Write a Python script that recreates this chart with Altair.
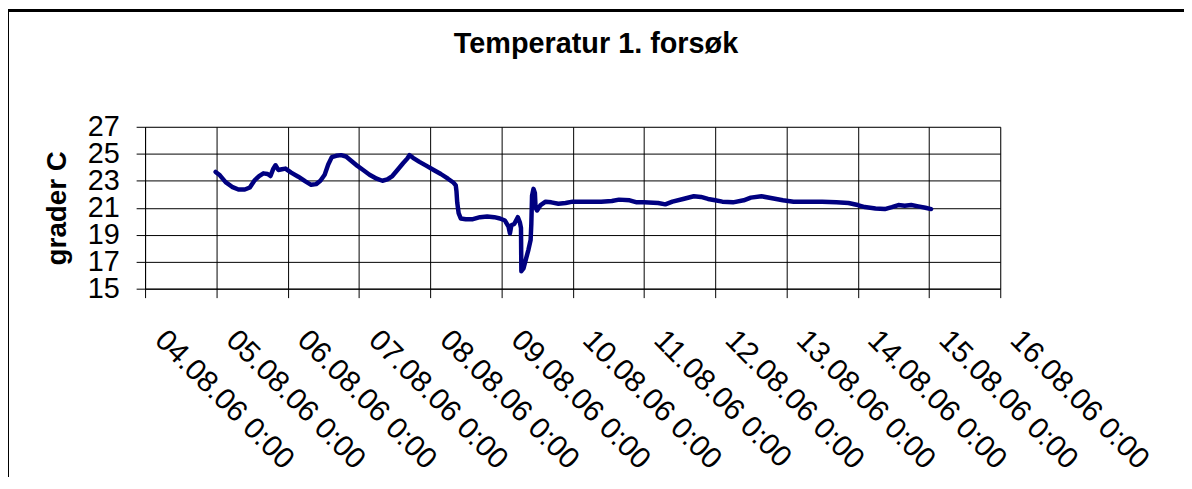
import altair as alt
import pandas as pd

# Day offsets from 04.08.06 0:00 and temperatures
day_offset = [
    0.99, 1.05, 1.13, 1.22, 1.31, 1.40, 1.47, 1.54, 1.60, 1.66, 1.72, 1.76, 1.80, 1.83, 1.87,
    1.92, 1.97, 2.05, 2.15, 2.25, 2.33, 2.40, 2.46, 2.52, 2.57, 2.62, 2.68, 2.75, 2.82, 2.90,
    2.98, 3.06, 3.15, 3.25, 3.33, 3.40, 3.47, 3.55, 3.62, 3.68, 3.71, 3.76, 3.85, 3.95, 4.05,
    4.15, 4.25, 4.33, 4.36, 4.37, 4.38, 4.40, 4.43, 4.50, 4.60, 4.70, 4.80, 4.90, 4.98, 5.05,
    5.10, 5.12, 5.14, 5.18, 5.23, 5.26, 5.275, 5.28, 5.31, 5.35, 5.38, 5.41, 5.42, 5.43, 5.45,
    5.47, 5.48, 5.50, 5.55, 5.62, 5.70, 5.80, 5.90, 6.00, 6.20, 6.40, 6.55, 6.65, 6.80, 6.90,
    7.00, 7.20, 7.30, 7.40, 7.55, 7.70, 7.80, 7.90, 8.00, 8.10, 8.25, 8.40, 8.50, 8.65, 8.80,
    8.95, 9.10, 9.30, 9.50, 9.70, 9.87, 10.00, 10.10, 10.25, 10.38, 10.48, 10.57, 10.66, 10.75,
    10.85, 10.95, 11.03,
]
temperature = [
    23.65, 23.4, 22.9, 22.55, 22.35, 22.35, 22.5, 23.05, 23.35, 23.55, 23.5, 23.35, 23.9, 24.15, 23.8,
    23.85, 23.9, 23.6, 23.3, 22.95, 22.7, 22.75, 23.0, 23.45, 24.2, 24.75, 24.85, 24.9, 24.8, 24.45,
    24.1, 23.8, 23.45, 23.15, 23.0, 23.1, 23.35, 23.85, 24.3, 24.65, 24.9, 24.7, 24.4, 24.1, 23.8,
    23.5, 23.15, 22.85, 22.65, 22.2, 21.4, 20.6, 20.2, 20.15, 20.15, 20.3, 20.35, 20.3, 20.2, 20.05,
    19.6, 19.1, 19.7, 19.8, 20.3, 19.9, 19.5, 16.3, 16.5, 17.3, 17.9, 18.6, 19.8, 21.9, 22.4,
    22.1, 21.0, 20.8, 21.2, 21.45, 21.4, 21.3, 21.35, 21.45, 21.45, 21.45, 21.5, 21.6, 21.55, 21.4,
    21.4, 21.35, 21.25, 21.45, 21.65, 21.85, 21.8, 21.65, 21.55, 21.45, 21.4, 21.55, 21.75, 21.85, 21.7,
    21.55, 21.45, 21.45, 21.45, 21.4, 21.35, 21.2, 21.05, 20.95, 20.9, 21.05, 21.2, 21.15, 21.2,
    21.1, 21.0, 20.9,
]
tick_days = list(range(4, 17))
y_ticks = [15, 17, 19, 21, 23, 25, 27]
chart_title = "Temperatur 1. forsøk"

start = pd.Timestamp("2006-08-04 00:00:00")
times = start + pd.to_timedelta(day_offset, unit="D")
df = pd.DataFrame({
    "time": times.strftime("%Y-%m-%dT%H:%M:%S"),
    "temp": temperature,
})

FONT = "Liberation Sans"
tick_values = [alt.DateTime(year=2006, month=8, date=d, hours=0) for d in tick_days]

x_enc = alt.X(
    "time:T",
    scale=alt.Scale(domain=[tick_values[0], tick_values[-1]], nice=False),
    axis=alt.Axis(
        values=tick_values,
        format="%d.%m.%y %-H:%M",
        labelAngle=45,
        labelAlign="left",
        labelBaseline="top",
        labelFontSize=30,
        labelFont=FONT,
        labelColor="black",
        labelLimit=500,
        labelPadding=27,
        labelOffset=25,
        labelOverlap=False,
        labelBound=False,
        labelFlush=False,
        tickSize=9,
        tickColor="black",
        domainColor="black",
        grid=True,
        gridColor="black",
        gridOpacity=1,
        title=None,
    ),
)
y_enc = alt.Y(
    "temp:Q",
    scale=alt.Scale(domain=[15, 27], nice=False, zero=False),
    axis=alt.Axis(
        values=y_ticks,
        labelFontSize=29,
        labelFont=FONT,
        labelColor="black",
        labelPadding=17,
        labelOverlap=False,
        labelFlush=False,
        tickSize=9,
        tickColor="black",
        domainColor="black",
        grid=True,
        gridColor="black",
        gridOpacity=1,
        title="grader C",
        titleFont=FONT,
        titleFontSize=28,
        titleFontWeight="bold",
        titleColor="black",
        titlePadding=16,
    ),
)

line = alt.Chart(df).mark_line(
    color="#000080", strokeWidth=4.5, strokeJoin="round", strokeCap="round"
).encode(x=x_enc, y=y_enc)

frame = alt.Chart(df).mark_rect(
    fill=None, stroke="black", strokeWidth=2
).encode(
    x=alt.value(-138), x2=alt.value(1100),
    y=alt.value(-117), y2=alt.value(500),
)

title_text = alt.Chart(pd.DataFrame({"t": [chart_title]})).mark_text(
    font=FONT, fontSize=29, fontWeight="bold", color="black",
    align="center", baseline="alphabetic",
).encode(text="t:N", x=alt.value(454), y=alt.value(-74))

chart = alt.layer(line, frame, title_text).properties(
    width=861,
    height=163,
    padding={"left": 138, "top": 118, "right": 185, "bottom": 188},
    autosize=alt.AutoSizeParams(type="none"),
).configure_view(stroke="#808080", strokeWidth=1).configure(background="white")

chart.save("out.html", embed_options={"renderer": "svg", "actions": False})
